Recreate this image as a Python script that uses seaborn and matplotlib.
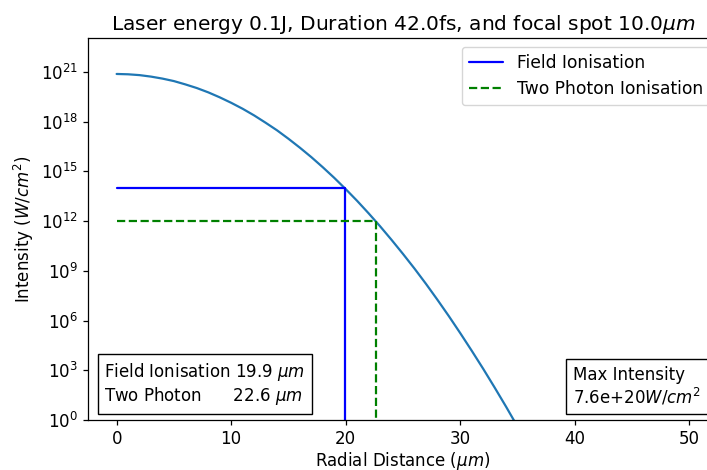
import numpy as np
import pandas as pd
import matplotlib
matplotlib.use("Agg")
import matplotlib.pyplot as plt
import seaborn as sns

# radial distance (um) and log10 intensity (W/cm^2)
radius = [0, 1, 2, 3, 4, 5, 6, 7, 8, 9, 10, 11, 12, 13, 14, 15, 16, 17, 18,
          19, 20, 21, 22, 23, 24, 25, 26, 27, 28, 29, 30, 31, 32, 33, 34, 35, 36]
log_intensity = [20.88, 20.86, 20.81, 20.72, 20.60, 20.45, 20.25, 20.03, 19.77,
                 19.47, 19.14, 18.78, 18.38, 17.94, 17.48, 16.97, 16.43, 15.86,
                 15.25, 14.61, 13.93, 13.22, 12.47, 11.69, 10.87, 10.02, 9.14,
                 8.22, 7.26, 6.27, 5.24, 4.18, 3.09, 1.96, 0.80, -0.40, -1.63]
field_radius = 19.9
field_intensity = 1e14
tp_radius = 22.6
tp_intensity = 1e12
max_intensity = 7.6e20

sns.set_theme(style="ticks", rc={
    "text.color": "black", "axes.labelcolor": "black",
    "xtick.color": "black", "ytick.color": "black", "axes.edgecolor": "black",
})
plt.rcParams['font.family'] = ['DejaVu Sans']
plt.rcParams['mathtext.fontset'] = 'dejavusans'

fig = plt.figure(figsize=(7.07, 4.70), dpi=100)
ax = fig.add_axes([88/707, 50/470, (718-88)/707, (420-38)/470])

df = pd.DataFrame({"r": radius, "I": [10.0**v for v in log_intensity]})
sns.lineplot(data=df, x="r", y="I", ax=ax, color="#1f77b4", lw=1.6)

fi = pd.DataFrame({"r": [0, field_radius, field_radius], "I": [field_intensity, field_intensity, 1.0]})
tp = pd.DataFrame({"r": [0, tp_radius, tp_radius], "I": [tp_intensity, tp_intensity, 1.0]})
ax.plot(fi["r"], fi["I"], color="blue", lw=1.6, label="Field Ionisation")
ax.plot(tp["r"], tp["I"], color="green", lw=1.6, ls="--", label="Two Photon Ionisation")

ax.set_yscale("log")
ax.set_xlim(-2.5, 52.5)
ax.set_ylim(1.0, 10.0**23.05)
ax.set_yticks([10.0**k for k in range(0, 22, 3)])
ax.minorticks_off()
ax.set_xticks([0, 10, 20, 30, 40, 50])
ax.tick_params(labelsize=12, length=3.5, width=0.9, pad=3.5, color="black")
for s in ax.spines.values():
    s.set_color("black")
    s.set_linewidth(0.9)

ax.set_xlabel(r"Radial Distance ($\mu m$)", fontsize=12, labelpad=1.5)
ax.set_ylabel(r"Intensity ($W/cm^2$)", fontsize=12, labelpad=4)
ax.set_title(r"Laser energy 0.1J, Duration 42.0fs, and focal spot 10.0$\mu m$", fontsize=14.5, pad=6)

ax.legend(loc="upper right", fontsize=12.3, frameon=True, fancybox=True, edgecolor="#cccccc",
          bbox_to_anchor=(0.995, 0.99), borderaxespad=0.3)

box = dict(boxstyle="square,pad=0.4", facecolor="white", edgecolor="black", lw=1)
ax.text(0.026, 0.033, "Field Ionisation %.1f $\\mu m$\nTwo Photon      %.1f $\\mu m$" % (field_radius, tp_radius),
        transform=ax.transAxes, fontsize=12, ha="left", va="bottom", bbox=box, linespacing=1.15)
ax.text(0.77, 0.033, "Max Intensity\n%.1e$W/cm^2$" % max_intensity,
        transform=ax.transAxes, fontsize=12, ha="left", va="bottom", bbox=box, linespacing=1.15)

fig.savefig("out.png", dpi=100)
